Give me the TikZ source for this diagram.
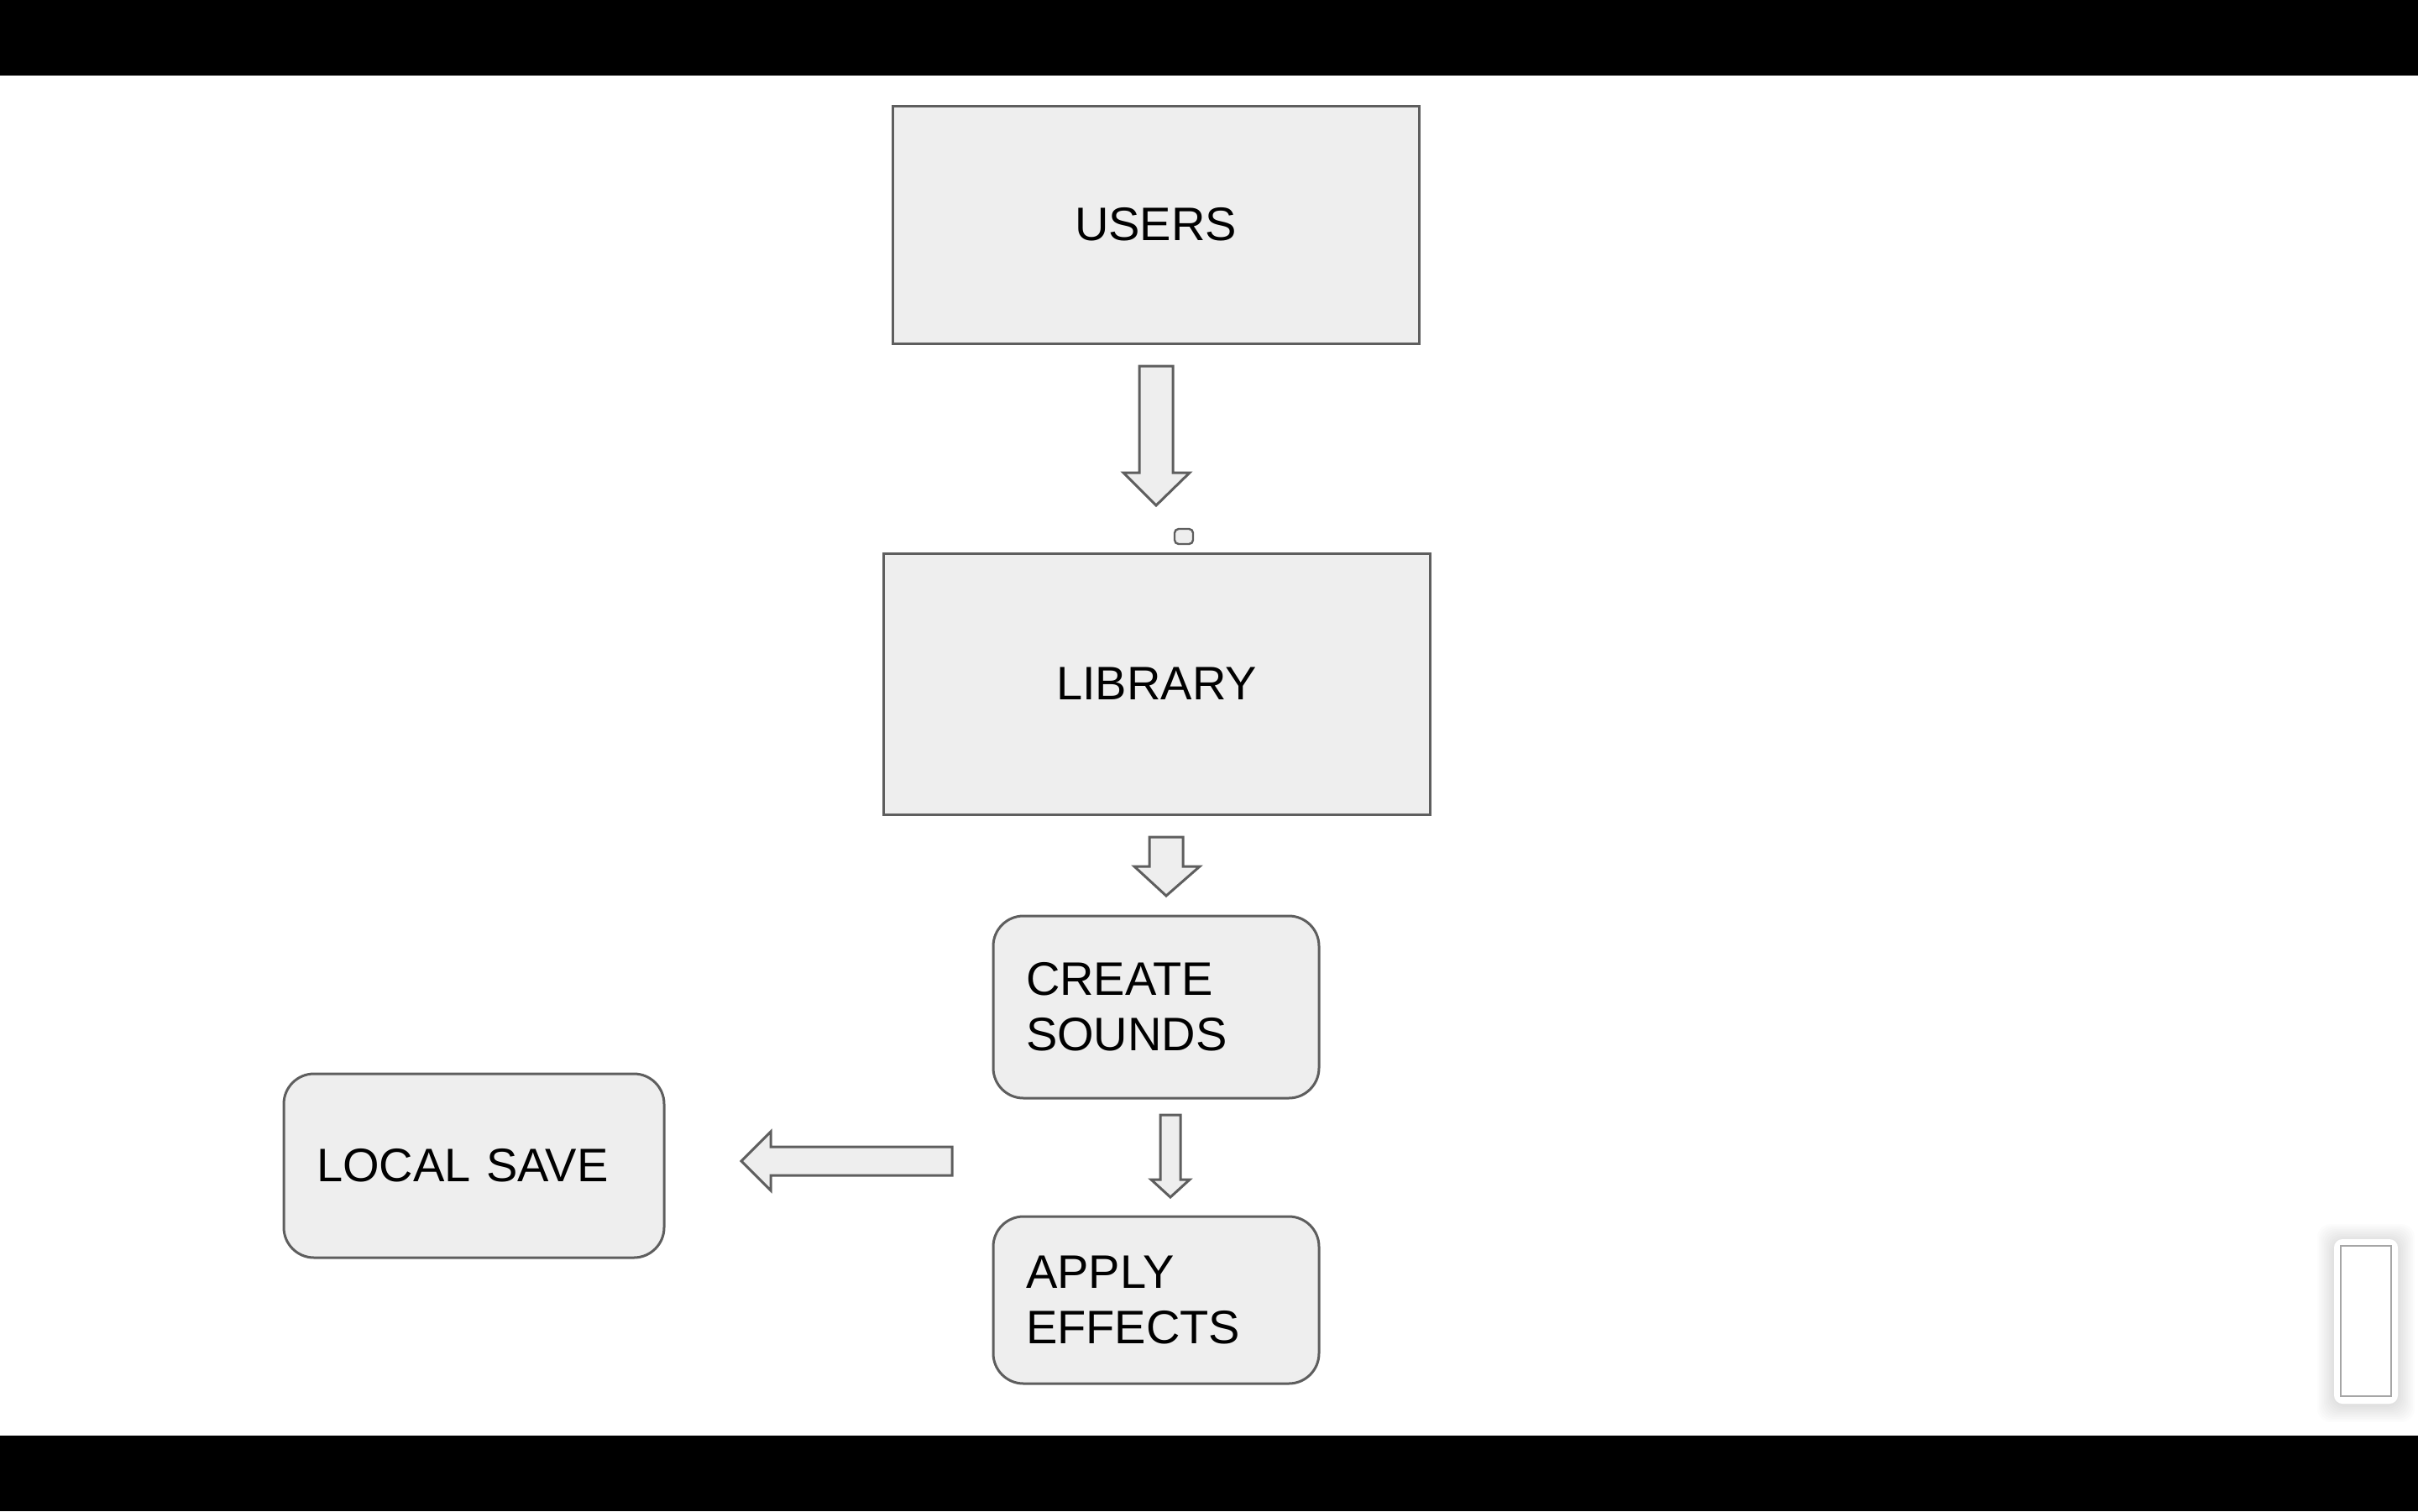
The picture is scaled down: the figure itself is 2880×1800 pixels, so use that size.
\documentclass[tikz,border=0pt]{standalone}
\usepackage{fontspec}
\setmainfont{Liberation Sans}
\begin{document}
\begin{tikzpicture}[x=0.25pt,y=-0.25pt,
  boxfill/.style={draw=boxline, fill=boxgray, line width=0.75pt},
  plainbox/.style={boxfill, rectangle, inner sep=0pt, align=center,
    font=\fontsize{14pt}{16.5pt}\selectfont},
  roundbox/.style={boxfill, rectangle, rounded corners=9pt, inner ysep=0pt,
    inner xsep=9.75pt, align=left, font=\fontsize{14pt}{16.5pt}\selectfont},
  blockarrow/.style={draw=boxline, fill=boxgray, line width=0.75pt, line join=miter},
]
\definecolor{boxgray}{HTML}{EEEEEE}
\definecolor{boxline}{HTML}{5E5E5E}
\useasboundingbox (0,0) rectangle (2880,1800);
% letterbox bars
\fill[black] (0,0) rectangle (2880,90);
\fill[black] (0,1710) rectangle (2880,1800);

% boxes
\node[plainbox, minimum width=156.75pt, minimum height=70.75pt] (users) at (1376.5,267.5) {USERS};
\node[plainbox, minimum width=162.75pt, minimum height=77.75pt] (library) at (1377.5,814.5) {LIBRARY};
\node[roundbox, minimum width=97pt, minimum height=54.25pt, text width=77.5pt] (create) at (1377,1199.5) {CREATE\\SOUNDS};
\node[roundbox, minimum width=97pt, minimum height=49.75pt, text width=77.5pt] (apply) at (1377,1548.5) {APPLY\\EFFECTS};
\node[roundbox, minimum width=113.25pt, minimum height=54.75pt, text width=93.75pt] (localsave) at (564.5,1388.5) {LOCAL SAVE};

% small handle above library
\node[draw=boxline, fill=boxgray, line width=0.6pt, rounded corners=1.2pt, inner sep=0pt,
  minimum width=5.5pt, minimum height=4.5pt] (handle) at (1410,639) {};

% block arrows
\draw[blockarrow] (1357,436) -- (1397,436) -- (1397,563) -- (1417,563) -- (1377,602)
  -- (1338,563) -- (1357,563) -- cycle;
\draw[blockarrow] (1369,997) -- (1409,997) -- (1409,1032) -- (1429,1032) -- (1389,1067)
  -- (1351,1032) -- (1369,1032) -- cycle;
\draw[blockarrow] (1382,1328) -- (1406,1328) -- (1406,1405) -- (1417,1405) -- (1394,1426)
  -- (1371,1405) -- (1382,1405) -- cycle;
\draw[blockarrow] (1134,1366) -- (1134,1400) -- (918,1400) -- (918,1418) -- (883,1383)
  -- (918,1348) -- (918,1366) -- cycle;

% side widget with soft shadow
\foreach \i in {1,...,10}{
  \fill[black, opacity=0.012, rounded corners=4pt]
    (2780-\i*2,1476-\i*2+2) rectangle (2856+\i*2,1672+\i*2+2);
}
\node[fill=white, rounded corners=2.5pt, inner sep=0pt, minimum width=19pt,
  minimum height=49pt] (widget) at (2818,1574) {};
\node[draw=black!35, line width=0.4pt, fill=white, inner sep=0pt, minimum width=15pt,
  minimum height=44.75pt] (widgetinner) at (2818,1573.5) {};
\end{tikzpicture}
\end{document}
